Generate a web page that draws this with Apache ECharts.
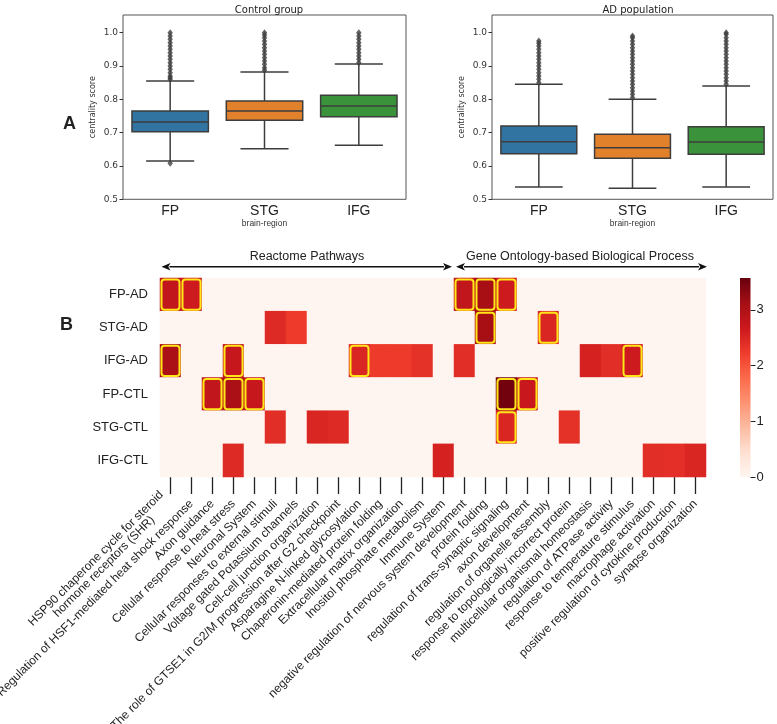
<!DOCTYPE html>
<html><head><meta charset="utf-8">
<script src="https://cdn.jsdelivr.net/npm/echarts@6/dist/echarts.min.js"></script>
<style>html,body{margin:0;padding:0;background:#fff}#c{width:777px;height:724px}</style>
</head><body><div id="c"></div>
<script>
// ---------- Panel A data ----------
const regions = ['FP', 'STG', 'IFG'];
// [lower whisker, Q1, median, Q3, upper whisker]
const controlFP = [0.615, 0.703, 0.732, 0.765, 0.855];
const controlSTG = [0.652, 0.737, 0.765, 0.795, 0.882];
const controlIFG = [0.662, 0.748, 0.780, 0.812, 0.906];
const adFP = [0.537, 0.637, 0.673, 0.720, 0.845];
const adSTG = [0.533, 0.623, 0.655, 0.695, 0.800];
const adIFG = [0.537, 0.635, 0.672, 0.718, 0.840];
const controlFPOut = [0.608, 0.86, 0.865, 0.87, 0.88, 0.89, 0.90, 0.91, 0.92, 0.93, 0.94, 0.95, 0.96, 0.97, 0.98, 0.99, 1.0];
const controlSTGOut = [0.887, 0.895, 0.905, 0.915, 0.925, 0.935, 0.945, 0.955, 0.965, 0.975, 0.985, 0.993, 1.0];
const controlIFGOut = [0.91, 0.92, 0.93, 0.94, 0.95, 0.96, 0.97, 0.98, 0.99, 1.0];
const adFPOut = [0.85, 0.86, 0.87, 0.88, 0.89, 0.90, 0.91, 0.92, 0.93, 0.94, 0.95, 0.96, 0.968, 0.975];
const adSTGOut = [0.805, 0.815, 0.825, 0.835, 0.845, 0.855, 0.865, 0.875, 0.885, 0.895, 0.905, 0.915, 0.925, 0.935, 0.945, 0.955, 0.965, 0.975, 0.985, 0.99];
const adIFGOut = [0.845, 0.855, 0.865, 0.875, 0.885, 0.895, 0.905, 0.915, 0.925, 0.935, 0.945, 0.955, 0.965, 0.975, 0.985, 0.995, 1.0];
const yTicksA = [0.5, 0.6, 0.7, 0.8, 0.9, 1.0];

// ---------- Panel B data ----------
const rowLabels = ['FP-AD', 'STG-AD', 'IFG-AD', 'FP-CTL', 'STG-CTL', 'IFG-CTL'];
const termLabels = [
  'HSP90 chaperone cycle for steroid\nhormone receptors (SHR)',
  'Regulation of HSF1-mediated heat shock response',
  'Axon guidance',
  'Cellular response to heat stress',
  'Neuronal System',
  'Cellular responses to external stimuli',
  'Voltage gated Potassium channels',
  'Cell-cell junction organization',
  'The role of GTSE1 in G2/M progression after G2 checkpoint',
  'Asparagine N-linked glycosylation',
  'Chaperonin-mediated protein folding',
  'Extracellular matrix organization',
  'Inositol phosphate metabolism',
  'Immune System',
  'negative regulation of nervous system development',
  'protein folding',
  'regulation of trans-synaptic signaling',
  'axon development',
  'regulation of organelle assembly',
  'response to topologically incorrect protein',
  'multicellular organismal homeostasis',
  'regulation of ATPase activity',
  'response to temperature stimulus',
  'macrophage activation',
  'positive regulation of cytokine production',
  'synapse organization'
];
const reactomeCount = 14;
const groupTitles = ['Reactome Pathways', 'Gene Ontology-based Biological Process'];
const scoreFP_AD   = [2.8,2.65,0,0,0,0,0,0,0,0,0,0,0,0,2.8,3.1,2.65,0,0,0,0,0,0,0,0,0];
const scoreSTG_AD  = [0,0,0,0,0,2.45,2.25,0,0,0,0,0,0,0,0,3.1,0,0,2.5,0,0,0,0,0,0,0];
const scoreIFG_AD  = [3.05,0,0,2.75,0,0,0,0,0,2.5,2.25,2.25,2.35,0,2.4,0,0,0,0,0,2.55,2.4,2.65,0,0,0];
const scoreFP_CTL  = [0,0,2.8,3.05,2.75,0,0,0,0,0,0,0,0,0,0,0,3.5,2.7,0,0,0,0,0,0,0,0];
const scoreSTG_CTL = [0,0,0,0,0,2.4,0,2.5,2.45,0,0,0,0,0,0,0,2.5,0,0,2.35,0,0,0,0,0,0];
const scoreIFG_CTL = [0,0,0,2.45,0,0,0,0,0,0,0,0,0,2.55,0,0,0,0,0,0,0,0,0,2.4,2.38,2.5];
const sigFP_AD   = [1,1,0,0,0,0,0,0,0,0,0,0,0,0,1,1,1,0,0,0,0,0,0,0,0,0];
const sigSTG_AD  = [0,0,0,0,0,0,0,0,0,0,0,0,0,0,0,1,0,0,1,0,0,0,0,0,0,0];
const sigIFG_AD  = [1,0,0,1,0,0,0,0,0,1,0,0,0,0,0,0,0,0,0,0,0,0,1,0,0,0];
const sigFP_CTL  = [0,0,1,1,1,0,0,0,0,0,0,0,0,0,0,0,1,1,0,0,0,0,0,0,0,0];
const sigSTG_CTL = [0,0,0,0,0,0,0,0,0,0,0,0,0,0,0,0,1,0,0,0,0,0,0,0,0,0];
const sigIFG_CTL = [0,0,0,0,0,0,0,0,0,0,0,0,0,0,0,0,0,0,0,0,0,0,0,0,0,0];
const colorMax = 3.57;
const colorTicks = [0, 1, 2, 3];

// ---------- build ----------
const boxColors = ['#3274a1', '#e1812c', '#3a923a'];
const reds = ['#fff5f0','#fee0d2','#fcbba1','#fc9272','#fb6a4a','#ef3b2c','#cb181d','#a50f15','#67000d'];
const lineCol = '#3d3d3d';
const controlStats = [controlFP, controlSTG, controlIFG];
const adStats = [adFP, adSTG, adIFG];
const controlOut = [controlFPOut, controlSTGOut, controlIFGOut];
const adOut = [adFPOut, adSTGOut, adIFGOut];
const scoreRows = [scoreFP_AD, scoreSTG_AD, scoreIFG_AD, scoreFP_CTL, scoreSTG_CTL, scoreIFG_CTL];
const sigRows = [sigFP_AD, sigSTG_AD, sigIFG_AD, sigFP_CTL, sigSTG_CTL, sigIFG_CTL];

const heatData = [];
const sigData = [];
scoreRows.forEach((row, r) => {
  for (let c = 0; c < termLabels.length; c++) {
    heatData.push([c, r, row[c] || 0]);
    if (sigRows[r][c]) sigData.push([c, r]);
  }
});

function boxRender(params, api) {
  const i = api.value(0);
  const lo = api.coord([i, api.value(1)]);
  const q1 = api.coord([i, api.value(2)]);
  const md = api.coord([i, api.value(3)]);
  const q3 = api.coord([i, api.value(4)]);
  const hi = api.coord([i, api.value(5)]);
  const band = api.size([1, 0])[0];
  const bw = band * 0.81, cw = band * 0.51;
  const x = lo[0];
  const st = { stroke: lineCol, lineWidth: 1.5 };
  return { type: 'group', children: [
    { type: 'line', shape: { x1: x, y1: hi[1], x2: x, y2: q3[1] }, style: st },
    { type: 'line', shape: { x1: x, y1: q1[1], x2: x, y2: lo[1] }, style: st },
    { type: 'line', shape: { x1: x - cw / 2, y1: hi[1], x2: x + cw / 2, y2: hi[1] }, style: st },
    { type: 'line', shape: { x1: x - cw / 2, y1: lo[1], x2: x + cw / 2, y2: lo[1] }, style: st },
    { type: 'rect', shape: { x: x - bw / 2, y: q3[1], width: bw, height: q1[1] - q3[1] }, style: { fill: boxColors[i], stroke: lineCol, lineWidth: 1.5 } },
    { type: 'line', shape: { x1: x - bw / 2, y1: md[1], x2: x + bw / 2, y2: md[1] }, style: st }
  ]};
}
function outData(lists) {
  const d = [];
  lists.forEach((l, i) => l.forEach(v => d.push([i, v])));
  return d;
}

const sans = 'DejaVu Sans';
const arial = 'Liberation Sans';

function boxGrid(left, width) {
  return { left: left, top: 15, width: width, height: 184.3, show: true, borderColor: '#555', borderWidth: 1, backgroundColor: 'transparent', outerBoundsMode: 'none' };
}
function boxX(idx) {
  return { type: 'category', gridIndex: idx, data: regions,
    axisLine: { show: false }, axisTick: { show: false },
    axisLabel: { fontFamily: arial, fontSize: 14, color: '#222', margin: 5 },
    name: 'brain-region', nameLocation: 'middle', nameGap: 19,
    nameTextStyle: { fontFamily: arial, fontSize: 8.5, color: '#333' } };
}
function boxY(idx) {
  return { type: 'value', gridIndex: idx, min: 0.5, max: 1.053, interval: 0.1,
    splitLine: { show: false }, axisLine: { show: false },
    axisTick: { show: true, length: 3.5, lineStyle: { color: '#333' }, customValues: yTicksA },
    axisLabel: { fontFamily: sans, fontSize: 9, color: '#333', margin: 5, customValues: yTicksA, formatter: v => v.toFixed(1) },
    name: 'centrality score', nameLocation: 'middle', nameGap: 26, nameRotate: 90,
    nameTextStyle: { fontFamily: sans, fontSize: 8, color: '#333' } };
}

const chart = echarts.init(document.getElementById('c'), null, { renderer: 'canvas' });
const option = {
  animation: false,
  backgroundColor: '#fff',
  title: [
    { text: 'Control group', left: 264, top: 0, textAlign: 'center', textStyle: { fontFamily: sans, fontSize: 10, fontWeight: 'normal', color: '#222' } },
    { text: 'AD population', left: 633, top: 0, textAlign: 'center', textStyle: { fontFamily: sans, fontSize: 10, fontWeight: 'normal', color: '#222' } },
    { text: 'A', left: 58, top: 110, textStyle: { fontFamily: arial, fontSize: 18, fontWeight: 'bold', color: '#222' } },
    { text: 'B', left: 55, top: 311, textStyle: { fontFamily: arial, fontSize: 18, fontWeight: 'bold', color: '#222' } }
  ],
  grid: [
    boxGrid(123, 283),
    boxGrid(492, 281),
    { left: 160, top: 278, width: 546, height: 199, outerBoundsMode: 'none' },
    { left: 740, top: 278, width: 10.5, height: 199, outerBoundsMode: 'none' }
  ],
  xAxis: [
    boxX(0), boxX(1),
    { type: 'category', gridIndex: 2, data: termLabels, offset: -7,
      axisLine: { show: false },
      axisTick: { show: true, length: 24, alignWithLabel: true, lineStyle: { color: '#222', width: 1.3 } },
      axisLabel: { interval: 0, rotate: 45, fontFamily: arial, fontSize: 12, color: '#222', margin: 32,
        formatter: function (v) {
          const parts = v.split('\n');
          if (parts.length > 1) return parts.map(p => '{c|' + p + '}').join('\n') + '\n{s| }';
          return v;
        },
        rich: {
          c: { align: 'center', fontFamily: arial, fontSize: 12, color: '#222', lineHeight: 11.5 },
          s: { fontFamily: arial, fontSize: 4, lineHeight: 14 }
        } },
      splitLine: { show: false } },
    { type: 'category', gridIndex: 3, data: [''], show: false }
  ],
  yAxis: [
    boxY(0), boxY(1),
    { type: 'category', gridIndex: 2, data: rowLabels, inverse: true,
      axisLine: { show: false }, axisTick: { show: false },
      axisLabel: { fontFamily: arial, fontSize: 13, color: '#222', margin: 12 } },
    { type: 'value', gridIndex: 3, min: 0, max: colorMax, position: 'right', splitLine: { show: false },
      axisLine: { show: false },
      axisTick: { show: true, length: 5, lineStyle: { color: '#222' }, customValues: colorTicks },
      axisLabel: { fontFamily: arial, fontSize: 13, color: '#222', margin: 6, customValues: colorTicks } }
  ],
  visualMap: {
    show: false, type: 'continuous', min: 0, max: colorMax, seriesIndex: 4, dimension: 2,
    inRange: { color: reds }
  },
  series: [
    { type: 'scatter', xAxisIndex: 0, yAxisIndex: 0, data: outData(controlOut), symbol: 'diamond', symbolSize: [5.5, 7], itemStyle: { color: lineCol }, silent: true, z: 2 },
    { type: 'custom', xAxisIndex: 0, yAxisIndex: 0, data: controlStats.map((s, i) => [i].concat(s)), renderItem: boxRender, silent: true, z: 3 },
    { type: 'scatter', xAxisIndex: 1, yAxisIndex: 1, data: outData(adOut), symbol: 'diamond', symbolSize: [5.5, 7], itemStyle: { color: lineCol }, silent: true, z: 2 },
    { type: 'custom', xAxisIndex: 1, yAxisIndex: 1, data: adStats.map((s, i) => [i].concat(s)), renderItem: boxRender, silent: true, z: 3 },
    { type: 'heatmap', xAxisIndex: 2, yAxisIndex: 2, data: heatData, emphasis: { disabled: true }, silent: true, z: 1 },
    { type: 'custom', xAxisIndex: 2, yAxisIndex: 2, data: sigData, silent: true, z: 3,
      renderItem: function (params, api) {
        const c = api.coord([api.value(0), api.value(1)]);
        const s = api.size([1, 1]);
        return { type: 'rect', shape: { x: c[0] - s[0] / 2 + 1.5, y: c[1] - s[1] / 2 + 1.5, width: s[0] - 3, height: s[1] - 3, r: 3 },
          style: { fill: null, stroke: '#ffe619', lineWidth: 2 } };
      } },
    { type: 'bar', xAxisIndex: 3, yAxisIndex: 3, data: [colorMax], barWidth: '100%', silent: true,
      itemStyle: { color: { type: 'linear', x: 0, y: 0, x2: 0, y2: 1,
        colorStops: reds.slice().reverse().map((c, i, a) => ({ offset: i / (a.length - 1), color: c })) } } }
  ]
};
chart.setOption(option);

// group arrows above heatmap
const p0 = chart.convertToPixel({ xAxisIndex: 2 }, 0);
const p1 = chart.convertToPixel({ xAxisIndex: 2 }, 1);
const band = p1 - p0;
const leftEdge = p0 - band / 2;
const midEdge = p0 + (reactomeCount - 0.5) * band;
const rightEdge = p0 + (termLabels.length - 0.5) * band;
const r0 = chart.convertToPixel({ yAxisIndex: 2 }, 0);
const r1 = chart.convertToPixel({ yAxisIndex: 2 }, 1);
const topY = r0 - (r1 - r0) / 2;
const ay = topY - 11.3;
function arrow(x1, x2) {
  const hl = 9, hw = 3.8;
  return [
    { type: 'line', shape: { x1: x1 + hl - 1, y1: ay, x2: x2 - hl + 1, y2: ay }, style: { stroke: '#111', lineWidth: 1.6 }, silent: true },
    { type: 'polygon', shape: { points: [[x1, ay], [x1 + hl, ay - hw], [x1 + hl * 0.75, ay], [x1 + hl, ay + hw]] }, style: { fill: '#111' }, silent: true },
    { type: 'polygon', shape: { points: [[x2, ay], [x2 - hl, ay - hw], [x2 - hl * 0.75, ay], [x2 - hl, ay + hw]] }, style: { fill: '#111' }, silent: true }
  ];
}
const g = [].concat(
  arrow(leftEdge + 1.5, midEdge - 2),
  arrow(midEdge + 2, rightEdge + 1),
  [
    { type: 'text', x: (leftEdge + midEdge) / 2, y: ay - 10, style: { text: groupTitles[0], font: '12.5px "Liberation Sans"', fill: '#222', align: 'center', verticalAlign: 'middle' }, silent: true },
    { type: 'text', x: (midEdge + rightEdge) / 2, y: ay - 10, style: { text: groupTitles[1], font: '12.5px "Liberation Sans"', fill: '#222', align: 'center', verticalAlign: 'middle' }, silent: true }
  ]
);
chart.setOption({ graphic: g });
</script>
</body></html>
